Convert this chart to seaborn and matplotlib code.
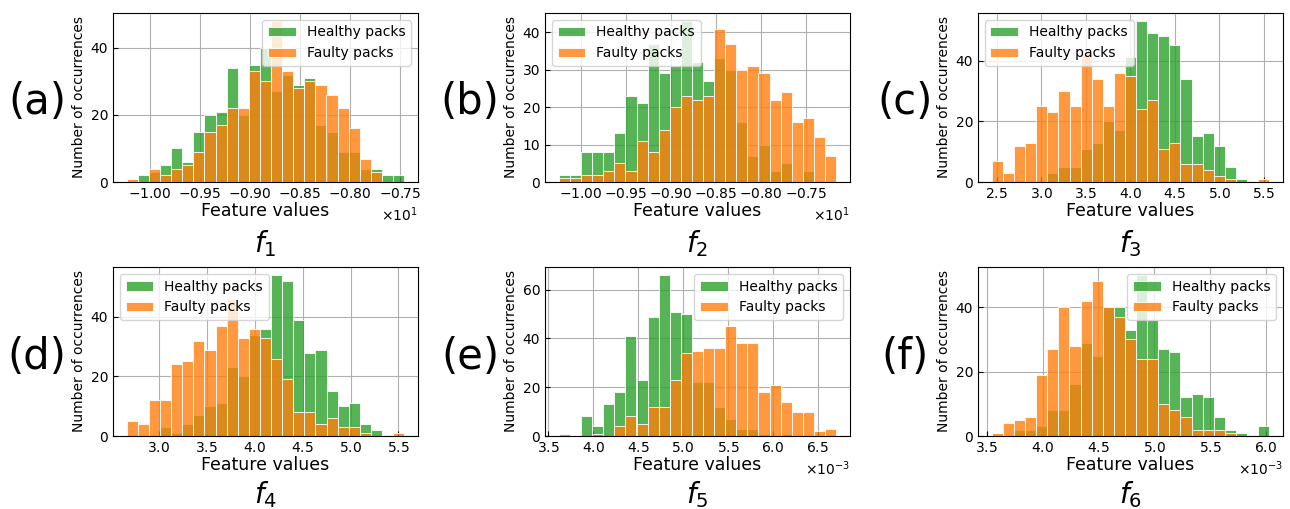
import numpy as np
import pandas as pd
import matplotlib
matplotlib.use("Agg")
import matplotlib.pyplot as plt
from matplotlib.ticker import MaxNLocator
import seaborn as sns

# ---------------- data (25 shared bins per feature) ----------------
f1_range = (-10.227, -7.46)
f1_healthy = [0, 2, 3, 5, 10, 6, 15, 20, 21, 34, 20, 35, 40, 27, 32, 29, 31, 17, 15, 9, 9, 4, 4, 2, 2]
f1_faulty = [1, 0, 4, 2, 4, 5, 9, 15, 17, 22, 22, 33, 30, 48, 33, 28, 30, 29, 26, 22, 16, 7, 3, 0, 0]

f2_range = (-10.24, -7.165)
f2_healthy = [2, 2, 8, 8, 8, 13, 23, 21, 37, 29, 31, 43, 32, 27, 33, 30, 16, 7, 10, 3, 5, 0, 3, 0, 0]
f2_faulty = [1, 1, 2, 2, 3, 5, 3, 11, 8, 14, 20, 23, 22, 23, 41, 37, 30, 31, 29, 22, 24, 16, 17, 12, 7]

f3_range = (2.444, 5.563)
f3_healthy = [0, 0, 0, 0, 0, 3, 5, 5, 11, 13, 20, 17, 41, 53, 49, 48, 45, 34, 15, 16, 12, 5, 1, 0, 0]
f3_faulty = [7, 3, 12, 13, 25, 23, 30, 25, 42, 34, 25, 36, 35, 24, 27, 11, 13, 6, 6, 4, 2, 1, 0, 0, 1]

f4_range = (2.665, 5.559)
f4_healthy = [0, 0, 0, 3, 1, 4, 7, 10, 11, 23, 20, 34, 36, 54, 52, 39, 28, 29, 15, 10, 11, 4, 2, 0, 0]
f4_faulty = [5, 4, 12, 12, 24, 25, 32, 29, 37, 46, 33, 36, 33, 26, 19, 8, 8, 4, 6, 3, 3, 1, 0, 0, 1]

f5_range = (3.619e-3, 6.704e-3)
f5_healthy = [0, 0, 8, 4, 13, 18, 41, 23, 49, 66, 51, 50, 22, 22, 12, 7, 3, 3, 1, 0, 1, 0, 0, 0, 0]
f5_faulty = [1, 0, 0, 1, 0, 4, 8, 5, 12, 12, 23, 34, 35, 36, 36, 45, 38, 38, 18, 21, 14, 10, 10, 2, 3]

f6_range = (3.545e-3, 6.03e-3)
f6_healthy = [0, 0, 2, 2, 3, 8, 8, 16, 29, 25, 40, 40, 33, 50, 36, 27, 26, 12, 13, 12, 6, 2, 1, 0, 3]
f6_faulty = [1, 4, 5, 6, 19, 27, 40, 28, 42, 48, 40, 37, 30, 24, 24, 10, 8, 6, 2, 2, 2, 1, 0, 0, 0]

panel_tags = ["(a)", "(b)", "(c)", "(d)", "(e)", "(f)"]
feature_names = ["$f_1$", "$f_2$", "$f_3$", "$f_4$", "$f_5$", "$f_6$"]
series_names = ["Healthy packs", "Faulty packs"]
legend_locs = ["upper right", "upper left", "upper left", "upper left", "upper right", "upper right"]

ranges = [f1_range, f2_range, f3_range, f4_range, f5_range, f6_range]
healthy = [f1_healthy, f2_healthy, f3_healthy, f4_healthy, f5_healthy, f6_healthy]
faulty = [f1_faulty, f2_faulty, f3_faulty, f4_faulty, f5_faulty, f6_faulty]

# ---------------- figure ----------------
W, H = 1290, 509
fig = plt.figure(figsize=(W / 100, H / 100), dpi=100)

col_left = [113, 545, 978]
row_bottom = [182, 436]
ax_w, ax_h = 305, 169
tag_x = [37, 470, 905]
tag_y = [102, 357]
feat_y = [244, 495]

green = "#2ca02c"
orange = "#ff7f0e"

for i in range(6):
    r, c = divmod(i, 3)
    left = col_left[c]
    bottom = row_bottom[r]
    ax = fig.add_axes([left / W, (H - bottom) / H, ax_w / W, ax_h / H])
    lo, hi = ranges[i]
    edges = np.linspace(lo, hi, 26)
    centers = 0.5 * (edges[:-1] + edges[1:])
    for counts, col, name in zip([healthy[i], faulty[i]], [green, orange], series_names):
        df = pd.DataFrame({"value": centers, "count": np.asarray(counts, dtype=float)})
        sns.histplot(data=df, x="value", weights="count", bins=edges.tolist(), color=col,
                     alpha=0.8, edgecolor="white", linewidth=0.6, label=name, ax=ax)
    ax.set_axisbelow(True)
    ax.grid(True, color="#b0b0b0", linewidth=0.8)
    ax.yaxis.set_major_locator(MaxNLocator(nbins=5, steps=[1, 2, 5, 10]))
    ax.ticklabel_format(axis="x", style="sci", scilimits=(0, 0), useMathText=True)
    ax.tick_params(labelsize=10, direction="in")
    ax.set_xlabel("Feature values", fontsize=12.5, labelpad=1)
    ax.set_ylabel("Number of occurrences", fontsize=10, labelpad=3)
    ax.legend(loc=legend_locs[i], fontsize=10)
    fig.text(tag_x[c] / W, 1 - tag_y[r] / H, panel_tags[i], fontsize=30,
             ha="center", va="center")
    fig.text((left + ax_w / 2) / W, 1 - feat_y[r] / H, feature_names[i], fontsize=20,
             ha="center", va="center")

fig.savefig("out.png", dpi=100)
